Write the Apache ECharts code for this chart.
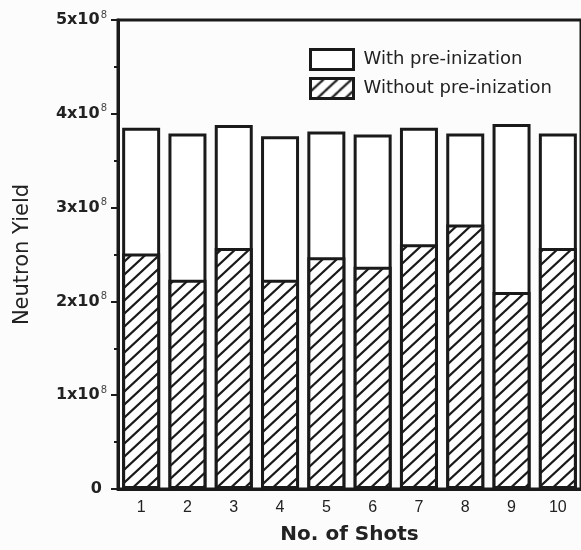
<!DOCTYPE html>
<html>
<head>
<meta charset="utf-8">
<script src="https://cdn.jsdelivr.net/npm/echarts@6/dist/echarts.min.js"></script>
<style>
  html, body { margin: 0; padding: 0; background: #fcfcfc; }
  #chart { width: 581px; height: 550px; }
</style>
</head>
<body>
<div id="chart"></div>
<script>
// Shot numbers along the x axis
const shots = ['1', '2', '3', '4', '5', '6', '7', '8', '9', '10'];
// Neutron yield per shot
const withPreIonization = [3.85e8, 3.79e8, 3.88e8, 3.76e8, 3.81e8, 3.78e8, 3.85e8, 3.79e8, 3.89e8, 3.79e8];
const withoutPreIonization = [2.51e8, 2.23e8, 2.57e8, 2.23e8, 2.47e8, 2.37e8, 2.61e8, 2.82e8, 2.10e8, 2.57e8];
const seriesNames = ['With pre-inization', 'Without pre-inization'];
// y-axis ticks, labelled in units of 10^8
const yTickStep = 1e8;
const yMax = 5e8;

const INK = '#1a1a1a';

// Diagonal "/" hatch tile used as fill for the hatched bars
function makeHatch() {
  const w = 14, h = 13;
  const c = document.createElement('canvas');
  c.width = w; c.height = h;
  const ctx = c.getContext('2d');
  ctx.fillStyle = '#ffffff';
  ctx.fillRect(0, 0, w, h);
  ctx.strokeStyle = INK;
  ctx.lineWidth = 2.2;
  ctx.lineCap = 'square';
  [-w, 0, w].forEach(function (dx) {
    ctx.beginPath();
    ctx.moveTo(dx, h);
    ctx.lineTo(dx + w, 0);
    ctx.stroke();
  });
  return c;
}
const hatch = { image: makeHatch(), repeat: 'repeat' };

const chart = echarts.init(document.getElementById('chart'), null, { renderer: 'canvas' });

chart.setOption({
  animation: false,
  backgroundColor: '#fcfcfc',
  grid: {
    left: 118, top: 20, width: 467, height: 471,
    show: true, borderColor: INK, borderWidth: 3, backgroundColor: 'transparent'
  },
  legend: {
    orient: 'vertical',
    left: 309, top: 48,
    padding: 0,
    itemWidth: 43, itemHeight: 20,
    itemGap: 6,
    icon: 'rect',
    itemStyle: { borderColor: INK, borderWidth: 3 },
    textStyle: {
      fontFamily: 'DejaVu Sans', fontSize: 18, color: '#222',
      padding: [0, 0, 0, 5]
    },
    data: seriesNames
  },
  xAxis: {
    type: 'category',
    data: shots,
    axisLine: { lineStyle: { color: INK, width: 3 } },
    axisTick: { length: 5, lineStyle: { color: INK, width: 2 } },
    axisLabel: { margin: 11, fontFamily: 'Liberation Sans', fontSize: 16, color: '#222' },
    name: 'No. of Shots',
    nameLocation: 'middle',
    nameGap: 36,
    nameTextStyle: { fontFamily: 'DejaVu Sans', fontWeight: 'bold', fontSize: 20, color: '#222' }
  },
  yAxis: {
    type: 'value',
    min: 0, max: yMax, interval: yTickStep,
    splitLine: { show: false },
    axisLine: { show: true, lineStyle: { color: INK, width: 3 } },
    axisTick: { show: true, length: 7, lineStyle: { color: INK, width: 2 } },
    minorTick: { show: true, splitNumber: 2, length: 4, lineStyle: { color: INK, width: 2 } },
    axisLabel: {
      margin: 11,
      formatter: function (v) {
        if (v === 0) return '{z|0}';
        return '{b|' + Math.round(v / 1e8) + 'x10}{s|8}';
      },
      rich: {
        b: { fontFamily: 'DejaVu Sans', fontWeight: 'bold', fontSize: 16, color: '#222' },
        z: { fontFamily: 'DejaVu Sans', fontWeight: 'bold', fontSize: 16, color: '#222', padding: [0, 5, 0, 0] },
        s: { fontFamily: 'DejaVu Sans', fontSize: 10, color: '#444', padding: [0, 0, 10, 1] }
      }
    },
    name: 'Neutron Yield',
    nameLocation: 'middle',
    nameGap: 85,
    nameTextStyle: { fontFamily: 'DejaVu Sans', fontSize: 21, color: '#222' }
  },
  series: [
    {
      name: seriesNames[0],
      type: 'bar',
      data: withPreIonization,
      barWidth: 38,
      barGap: '-100%',
      itemStyle: { color: '#ffffff', borderColor: INK, borderWidth: 3 }
    },
    {
      name: seriesNames[1],
      type: 'bar',
      data: withoutPreIonization,
      barWidth: 38,
      barGap: '-100%',
      itemStyle: { color: hatch, borderColor: INK, borderWidth: 3 }
    }
  ]
});
</script>
</body>
</html>
